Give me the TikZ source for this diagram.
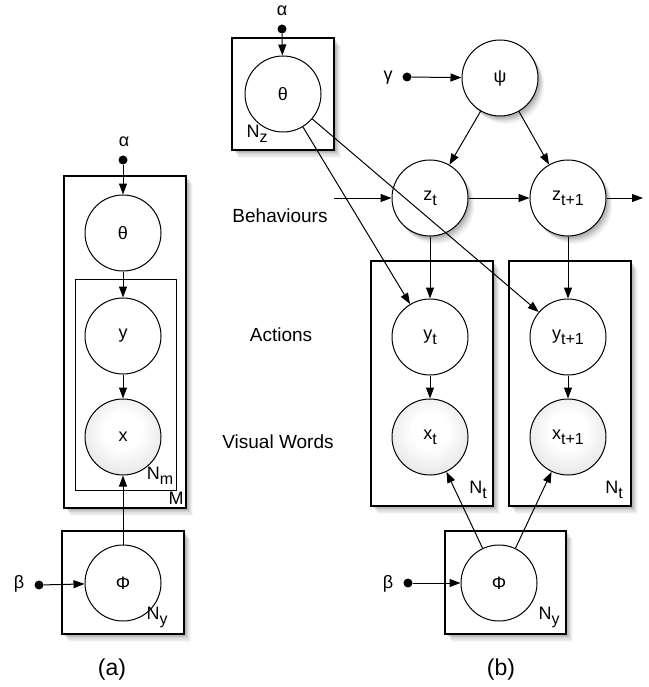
\documentclass[tikz,border=0pt]{standalone}
\usepackage{fontspec}
\setmainfont{Liberation Sans}
\usetikzlibrary{arrows.meta}
% soft radial fill for observed variables (box radius 50bp = node radius)
\pgfdeclareradialshading{obsfill}{\pgfpoint{0bp}{6bp}}{color(0bp)=(white); color(12bp)=(white); color(50bp)=(black!22)}
% lowered index, nearly full size
\newcommand\idx[1]{\raisebox{-5pt}{\fontsize{16}{16}\selectfont #1}}
\begin{document}
\begin{tikzpicture}[x=1pt,y=-1pt,
  every node/.style={font=\fontsize{18}{20}\selectfont},
  var/.style={circle,draw,line width=1pt,minimum size=76pt,inner sep=0pt,fill=white},
  obs/.style={var,shading=obsfill},
  % layered offset fills give a soft drop shadow
  shad/.style={
    preaction={fill=black,opacity=0.07,transform canvas={shift={(0.5pt,-0.8pt)}}},
    preaction={fill=black,opacity=0.07,transform canvas={shift={(1.5pt,-2pt)}}},
    preaction={fill=black,opacity=0.07,transform canvas={shift={(2.5pt,-3.2pt)}}},
    preaction={fill=black,opacity=0.07,transform canvas={shift={(3.5pt,-4.4pt)}}},
    preaction={fill=black,opacity=0.05,transform canvas={shift={(4.5pt,-5.6pt)}}},
    preaction={fill=black,opacity=0.04,transform canvas={shift={(5.5pt,-6.8pt)}}},
    preaction={fill=black,opacity=0.03,transform canvas={shift={(6.5pt,-8pt)}}}},
  plate/.style={shad,draw,line width=1.1pt,fill=white},
  subplate/.style={draw,line width=1pt},
  edge/.style={-{Triangle[length=11pt,width=8pt]},line width=1pt},
  hyper/.style={circle,fill=black,minimum size=9pt,inner sep=0pt},
  lbl/.style={font=\fontsize{19}{22}\selectfont},
  platelbl/.style={font=\fontsize{18}{20}\selectfont,inner sep=0pt},
  captxt/.style={font=\fontsize{23}{26}\selectfont},
]
\useasboundingbox (0,0) rectangle (648,687);

% ---------------- (a) ----------------
\path[plate] (64,176) rectangle (186,508);
\path[subplate] (75,279) rectangle (176,490);
\path[plate] (62,531) rectangle (184,634);

\node (alphaA) at (124,142) {α};
\node[hyper] (hA) at (123,160) {};
\node[var] (thA) at (123,233) {θ};
\node[var] (yA) at (123,336) {y};
\node[obs] (xA) at (123,437) {x};
\node[var] (phA) at (123,583) {Φ};
\node (betaA) at (19,584) {β};
\node[hyper] (hbA) at (39,585) {};
\node[platelbl] (nmA) at (160,476) {N\idx{m}};
\node[platelbl] (mA) at (176,498) {M};
\node[platelbl] (nyA) at (157,617) {N\idx{y}};
\node[captxt] (capA) at (112,670) {(a)};

\draw[edge] (hA) -- (thA);
\draw[edge] (thA) -- (yA);
\draw[edge] (yA) -- (xA);
\draw[edge] (phA) -- (xA);
\draw[edge] (hbA) -- (phA);

% ---------------- (b) ----------------
\path[plate] (232,38) rectangle (334,150);
\path[plate] (371,261) rectangle (493,506);
\path[plate] (509,261) rectangle (631,506);
\path[plate] (445,531) rectangle (566,634);

\node (alphaB) at (282,11) {α};
\node[hyper] (hB) at (282,29) {};
\node[var] (thB) at (283,94) {θ};
\node[platelbl] (nzB) at (257,134) {N\idx{z}};

\node (gammaB) at (388,78) {γ};
\node[hyper] (hg) at (407,77) {};
\node[var,shad] (psi) at (500,78) {ψ};

\node[var,shad] (zt) at (430,198) {z\idx{t}};
\node[var,shad] (zt1) at (568,198) {z\idx{t+1}};
\coordinate (zin) at (334,198);
\coordinate (zout) at (643,198);

\node[var] (yt) at (430,337) {y\idx{t}};
\node[obs] (xt) at (430,437) {x\idx{t}};
\node[var] (yt1) at (568,337) {y\idx{t+1}};
\node[obs] (xt1) at (568,437) {x\idx{t+1}};
\node[platelbl] (ntA) at (478,490) {N\idx{t}};
\node[platelbl] (ntB) at (614,490) {N\idx{t}};

\node[var] (phB) at (499,583) {Φ};
\node (betaB) at (388,584) {β};
\node[hyper] (hbB) at (408,583) {};
\node[platelbl] (nyB) at (549,617) {N\idx{y}};

\node[lbl] (lbeh) at (280,216) {Behaviours};
\node[lbl] (lact) at (281,335) {Actions};
\node[lbl] (lvis) at (278,442) {Visual Words};
\node[captxt] (capB) at (501,670) {(b)};

\draw[edge] (hB) -- (thB);
\draw[edge] (hg) -- (psi);
\draw[edge] (psi) -- (zt);
\draw[edge] (psi) -- (zt1);
\draw[edge] (zin) -- (zt);
\draw[edge] (zt) -- (zt1);
\draw[edge] (zt1) -- (zout);
\draw[edge] (zt) -- (yt);
\draw[edge] (zt1) -- (yt1);
\draw[edge] (thB) -- (yt);
\draw[edge] (thB) -- (yt1);
\draw[edge] (yt) -- (xt);
\draw[edge] (yt1) -- (xt1);
\draw[edge] (phB) -- (xt);
\draw[edge] (phB) -- (xt1);
\draw[edge] (hbB) -- (phB);
\end{tikzpicture}
\end{document}
